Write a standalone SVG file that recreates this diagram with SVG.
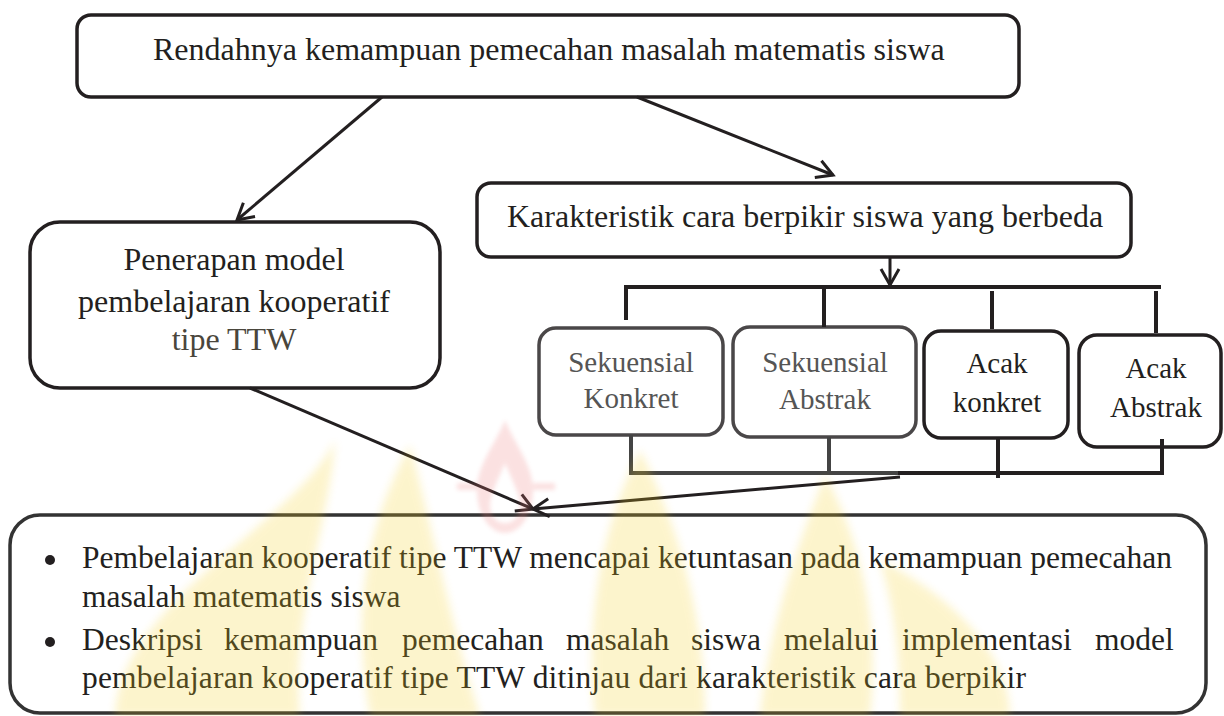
<svg xmlns="http://www.w3.org/2000/svg" width="1224" height="716" viewBox="0 0 1224 716">
<style>
.box{fill:none;stroke:#231f20;stroke-width:3.5}
.gbox{fill:none;stroke:#4a4748;stroke-width:3.5}
text{font-family:'Liberation Serif','Times New Roman',serif;fill:#231f20}
.t32{font-size:32px}
.t29{font-size:29px}
.tb{font-size:31.5px}
.gray{fill:#555}
.conn{fill:none;stroke:#231f20;stroke-width:3}
.br{fill:none;stroke:#231f20;stroke-width:4}
.gbr{fill:none;stroke:#444;stroke-width:4}
</style>
<defs>
<marker id="ah" markerUnits="userSpaceOnUse" markerWidth="40" markerHeight="40" viewBox="-20 -20 40 40" refX="0" refY="0" orient="auto">
<path d="M-16,-9 L0,0 L-16,9" fill="none" stroke="#231f20" stroke-width="3"/>
</marker>
<filter id="blur" x="-20%" y="-20%" width="140%" height="140%"><feGaussianBlur stdDeviation="4"/></filter>
<filter id="blur2" x="-20%" y="-20%" width="140%" height="140%"><feGaussianBlur stdDeviation="2"/></filter>
</defs>
<rect width="1224" height="716" fill="#ffffff"/>

<g id="top">
<rect class="box" x="77" y="15" width="942" height="82" rx="14"/>
<text class="t32" x="153" y="60">Rendahnya kemampuan pemecahan masalah matematis siswa</text>
</g>

<g id="penerapan">
<rect class="box" x="30" y="222" width="410" height="166" rx="30"/>
<text class="t32" x="234" y="270" text-anchor="middle">Penerapan model</text>
<text class="t32" x="234" y="312" text-anchor="middle">pembelajaran kooperatif</text>
<text class="t32" x="234" y="350" text-anchor="middle" style="fill:#4a463c">tipe TTW</text>
</g>

<g id="karakteristik">
<rect class="box" x="477" y="183" width="654" height="74" rx="14"/>
<text class="t32" x="507" y="227">Karakteristik cara berpikir siswa yang berbeda</text>
</g>

<g id="sk">
<rect class="gbox" x="539" y="328" width="184" height="107" rx="17"/>
<text class="t29 gray" x="631" y="372" text-anchor="middle">Sekuensial</text>
<text class="t29 gray" x="631" y="408" text-anchor="middle">Konkret</text>
</g>

<g id="sa">
<rect class="gbox" x="733" y="327" width="183" height="110" rx="17"/>
<text class="t29 gray" x="825" y="372" text-anchor="middle">Sekuensial</text>
<text class="t29 gray" x="825" y="409" text-anchor="middle">Abstrak</text>
</g>

<g id="ak">
<rect class="box" x="924" y="331" width="144" height="107" rx="17"/>
<text class="t29" x="997" y="373" text-anchor="middle">Acak</text>
<text class="t29" x="997" y="412" text-anchor="middle">konkret</text>
</g>

<g id="aa">
<rect class="box" x="1079" y="335" width="142" height="112" rx="18"/>
<text class="t29" x="1156" y="378" text-anchor="middle">Acak</text>
<text class="t29" x="1156" y="417" text-anchor="middle">Abstrak</text>
</g>

<g id="hasil">
<rect class="box" x="10" y="515" width="1196" height="198" rx="30" style="stroke:#333"/>
<circle cx="50" cy="560" r="5" fill="#231f20"/>
<circle cx="50" cy="642" r="5" fill="#231f20"/>
<text class="tb" x="82" y="568" textLength="1090" lengthAdjust="spacing">Pembelajaran kooperatif tipe TTW mencapai ketuntasan pada kemampuan pemecahan</text>
<text class="tb" x="82" y="607">masalah matematis siswa</text>
<text class="tb" y="650"><tspan x="82">Deskripsi</tspan><tspan x="224">kemampuan</tspan><tspan x="402">pemecahan</tspan><tspan x="566">masalah</tspan><tspan x="691">siswa</tspan><tspan x="784">melalui</tspan><tspan x="902">implementasi</tspan><tspan x="1095">model</tspan></text>
<text class="tb" x="82" y="688" textLength="944" lengthAdjust="spacing">pembelajaran kooperatif tipe TTW ditinjau dari karakteristik cara berpikir</text>
</g>

<g id="connectors">
<line class="conn" x1="382" y1="97" x2="237" y2="220" marker-end="url(#ah)"/>
<line class="conn" x1="637" y1="97" x2="833" y2="175" marker-end="url(#ah)"/>
<line class="conn" x1="890" y1="257" x2="890" y2="285" marker-end="url(#ah)"/>
<path class="br" d="M626,320 V287 H1161"/>
<line class="br" x1="824" y1="287" x2="824" y2="327"/>
<line class="br" x1="992" y1="291" x2="992" y2="329"/>
<line class="br" x1="1156" y1="291" x2="1156" y2="333"/>
<path class="gbr" d="M631,435 V473 H900"/>
<line class="gbr" x1="829" y1="437" x2="829" y2="473"/>
<path class="br" d="M898,473 H1162 V439"/>
<line class="br" x1="998" y1="438" x2="998" y2="478"/>
<line class="conn" x1="250" y1="388" x2="533" y2="509" marker-end="url(#ah)"/>
<line class="conn" x1="900" y1="477" x2="533" y2="509" marker-end="url(#ah)"/>
</g>

<g id="watermark" opacity="0.22" style="pointer-events:none">
<g filter="url(#blur)" fill="#f5cf1c">
<path d="M335,440 C300,520 120,600 115,716 L300,716 C290,620 330,520 335,440 Z"/>
<path d="M410,445 C370,520 350,600 370,716 L480,716 C450,620 430,520 410,445 Z"/>
<path d="M640,450 C600,530 585,620 595,716 L705,716 C705,620 680,530 640,450 Z"/>
<path d="M825,475 C860,540 880,620 870,716 L760,716 C770,620 800,540 825,475 Z"/>
<path d="M880,560 C960,600 1010,660 1010,716 L900,716 C900,660 895,610 880,560 Z"/>
</g>
<g filter="url(#blur2)" fill="#ee7a7a">
<path fill-rule="evenodd" d="M505,420 C495,445 477,465 477,490 C477,515 490,533 505,533 C520,533 533,515 533,490 C533,465 515,445 505,420 Z M505,463 C498,480 490,495 490,505 C490,517 497,523 505,523 C513,523 520,517 520,505 C520,495 512,480 505,463 Z"/>
<rect x="457" y="483" width="20" height="7"/>
<rect x="533" y="483" width="22" height="7"/>
</g>
</g>
</svg>
